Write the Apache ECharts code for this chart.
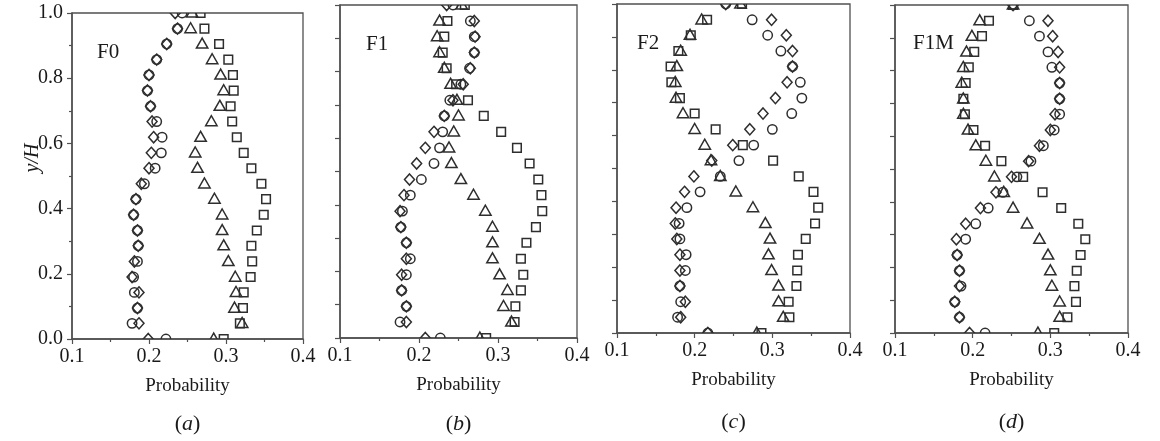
<!DOCTYPE html>
<html>
<head>
<meta charset="utf-8">
<script src="https://cdn.jsdelivr.net/npm/echarts@6/dist/echarts.min.js"></script>
<style>html,body{margin:0;padding:0;background:#fff}#c{width:1160px;height:441px}</style>
</head>
<body>
<div id="c"></div>
<script>
// y/H levels (bottom to top)
const yLevels = [0, 0.048, 0.095, 0.143, 0.190, 0.238, 0.286, 0.333, 0.381, 0.429, 0.476,
  0.524, 0.571, 0.619, 0.667, 0.714, 0.762, 0.810, 0.857, 0.905, 0.952, 1.0];
const xTicks = [0.1, 0.2, 0.3, 0.4];
const yTicks = [0.0, 0.2, 0.4, 0.6, 0.8, 1.0];
const panelNames = ['F0', 'F1', 'F2', 'F1M'];
const captions = ['a', 'b', 'c', 'd'];

// Panel (a) F0
const F0_square   = [0.297,0.318,0.322,0.323,0.332,0.334,0.333,0.340,0.349,0.352,0.346,0.333,0.323,0.314,0.308,0.306,0.310,0.309,0.303,0.291,0.272,0.267];
const F0_triangle = [0.284,0.321,0.311,0.313,0.312,0.303,0.297,0.295,0.295,0.285,0.272,0.263,0.260,0.267,0.281,0.292,0.297,0.293,0.282,0.269,0.254,0.256];
const F0_circle   = [0.222,0.178,0.185,0.181,0.180,0.185,0.186,0.185,0.180,0.183,0.194,0.208,0.216,0.217,0.210,0.202,0.198,0.200,0.210,0.223,0.237,0.243];
const F0_diamond  = [0.199,0.187,0.185,0.187,0.178,0.181,0.186,0.185,0.180,0.183,0.190,0.200,0.203,0.206,0.204,0.202,0.198,0.200,0.210,0.223,0.237,0.234];
// Panel (b) F1
const F1_square   = [0.285,0.321,0.322,0.329,0.332,0.329,0.336,0.348,0.356,0.355,0.351,0.340,0.324,0.304,0.282,0.262,0.247,0.235,0.230,0.232,0.236,0.258];
const F1_triangle = [0.277,0.317,0.307,0.312,0.302,0.293,0.293,0.293,0.284,0.269,0.253,0.241,0.238,0.244,0.250,0.248,0.240,0.232,0.226,0.223,0.226,0.254];
const F1_circle   = [0.227,0.176,0.184,0.178,0.184,0.189,0.184,0.177,0.179,0.189,0.203,0.219,0.226,0.230,0.232,0.239,0.253,0.264,0.270,0.270,0.265,0.243];
const F1_diamond  = [0.208,0.184,0.184,0.178,0.178,0.184,0.184,0.177,0.176,0.181,0.188,0.197,0.208,0.219,0.232,0.243,0.256,0.265,0.270,0.271,0.270,0.235];
// Panel (c) F2
const F2_square   = [0.286,0.322,0.321,0.331,0.332,0.333,0.343,0.355,0.359,0.353,0.334,0.301,0.262,0.227,0.200,0.181,0.170,0.169,0.179,0.195,0.216,0.261];
const F2_triangle = [0.280,0.314,0.308,0.308,0.299,0.295,0.297,0.291,0.275,0.253,0.233,0.221,0.213,0.200,0.185,0.176,0.175,0.177,0.182,0.194,0.209,0.259];
const F2_circle   = [0.217,0.178,0.182,0.181,0.188,0.189,0.181,0.180,0.190,0.207,0.233,0.257,0.276,0.300,0.325,0.338,0.336,0.326,0.311,0.294,0.274,0.240];
const F2_diamond  = [0.217,0.182,0.188,0.181,0.181,0.181,0.177,0.175,0.176,0.187,0.199,0.222,0.249,0.271,0.288,0.304,0.319,0.326,0.326,0.318,0.299,0.240];
// Panel (d) F1M
const F1M_square   = [0.305,0.322,0.333,0.331,0.334,0.339,0.345,0.336,0.314,0.290,0.265,0.237,0.216,0.201,0.190,0.188,0.191,0.195,0.202,0.212,0.221,0.252];
const F1M_triangle = [0.284,0.312,0.312,0.302,0.300,0.297,0.286,0.270,0.252,0.240,0.228,0.217,0.204,0.194,0.188,0.188,0.186,0.188,0.192,0.199,0.209,0.252];
const F1M_circle   = [0.216,0.183,0.177,0.185,0.183,0.180,0.191,0.204,0.220,0.239,0.257,0.275,0.291,0.305,0.312,0.312,0.312,0.302,0.297,0.286,0.273,0.252];
const F1M_diamond  = [0.196,0.183,0.177,0.183,0.183,0.180,0.179,0.191,0.210,0.230,0.250,0.272,0.286,0.300,0.306,0.312,0.312,0.312,0.310,0.303,0.297,0.252];

const panels = [
  {square: F0_square, triangle: F0_triangle, circle: F0_circle, diamond: F0_diamond},
  {square: F1_square, triangle: F1_triangle, circle: F1_circle, diamond: F1_diamond},
  {square: F2_square, triangle: F2_triangle, circle: F2_circle, diamond: F2_diamond},
  {square: F1M_square, triangle: F1M_triangle, circle: F1M_circle, diamond: F1M_diamond}
];

const FONT = "'Liberation Serif', 'Times New Roman', 'DejaVu Serif', serif";
const INK = '#505050';
const MARK = '#2e2e2e';
const TXT = '#1a1a1a';

const grids = [
  {left: 72, top: 13, width: 231, height: 326},
  {left: 340, top: 5, width: 237, height: 333},
  {left: 617, top: 4, width: 233, height: 329},
  {left: 895, top: 5, width: 233, height: 328}
];

function shapeRender(kind) {
  return function (params, api) {
    const p = api.coord([api.value(0), api.value(1)]);
    const cx = p[0], cy = p[1];
    const style = {fill: 'none', stroke: MARK, lineWidth: 1.5};
    if (kind === 'square') {
      return {type: 'rect', shape: {x: cx - 4.3, y: cy - 4.3, width: 8.6, height: 8.6}, style: style};
    } else if (kind === 'circle') {
      return {type: 'circle', shape: {cx: cx, cy: cy, r: 4.7}, style: style};
    } else if (kind === 'triangle') {
      return {type: 'polygon', shape: {points: [[cx, cy - 5.9], [cx - 5.7, cy + 4.1], [cx + 5.7, cy + 4.1]]}, style: style};
    } else {
      return {type: 'polygon', shape: {points: [[cx, cy - 5.6], [cx + 5, cy], [cx, cy + 5.6], [cx - 5, cy]]}, style: style};
    }
  };
}

const option = {
  animation: false,
  backgroundColor: '#fff',
  textStyle: {fontFamily: FONT},
  grid: grids.map(g => Object.assign({show: true, borderColor: INK, borderWidth: 1.3, backgroundColor: 'transparent', containLabel: false}, g)),
  xAxis: grids.map((g, i) => ({
    gridIndex: i, type: 'value', min: 0.1, max: 0.4, interval: 0.1,
    axisLine: {show: true, onZero: false, lineStyle: {color: INK, width: 1.5}},
    axisTick: {show: true, length: 5, lineStyle: {color: INK, width: 1.2}},
    minorTick: {show: true, splitNumber: 2, length: 3, lineStyle: {color: INK, width: 1.2}},
    splitLine: {show: false},
    axisLabel: {fontFamily: FONT, fontSize: 20, color: TXT, margin: 8,
      formatter: v => xTicks.some(t => Math.abs(t - v) < 1e-6) ? v.toFixed(1) : ''},
    name: 'Probability', nameLocation: 'middle', nameGap: 38,
    nameTextStyle: {fontFamily: FONT, fontSize: 19, color: TXT}
  })),
  yAxis: grids.map((g, i) => (i === 0 ? {
    gridIndex: i, type: 'value', min: 0, max: 1, interval: 0.2,
    axisLine: {show: true, onZero: false, lineStyle: {color: INK, width: 1.5}},
    axisTick: {show: true, length: 5, lineStyle: {color: INK, width: 1.2}},
    minorTick: {show: true, splitNumber: 2, length: 3, lineStyle: {color: INK, width: 1.2}},
    splitLine: {show: false},
    axisLabel: {fontFamily: FONT, fontSize: 20, color: TXT, margin: 9,
      formatter: v => yTicks.some(t => Math.abs(t - v) < 1e-6) ? v.toFixed(1) : ''}
  } : {
    gridIndex: i, type: 'value', min: 0, max: 1, interval: 0.1,
    axisLine: {show: true, onZero: false, lineStyle: {color: INK, width: 1.5}},
    axisTick: {show: true, length: 5, lineStyle: {color: INK, width: 1.2}},
    splitLine: {show: false},
    axisLabel: {show: false}
  })),
  series: [],
  graphic: []
};

const kinds = ['square', 'triangle', 'circle', 'diamond'];
panels.forEach((pnl, i) => {
  kinds.forEach(k => {
    option.series.push({
      type: 'custom', name: panelNames[i] + ' ' + k,
      xAxisIndex: i, yAxisIndex: i, coordinateSystem: 'cartesian2d',
      clip: true, silent: true,
      encode: {x: 0, y: 1},
      data: pnl[k].map((x, j) => [x, yLevels[j]]),
      renderItem: shapeRender(k)
    });
  });
});

const labelPos = [[97, 52], [366, 44], [637, 43], [913, 43]];
panelNames.forEach((n, i) => {
  option.graphic.push({type: 'text', x: labelPos[i][0], y: labelPos[i][1], z: 100,
    style: {text: n, fontFamily: FONT, fontSize: 21, fill: TXT, align: 'left', verticalAlign: 'middle'}});
});
const capY = [424, 424, 422, 422];
captions.forEach((c, i) => {
  const g = grids[i];
  option.graphic.push({type: 'text', x: g.left + g.width / 2, y: capY[i], z: 100,
    style: {text: '{p|(}{i|' + c + '}{p|)}', align: 'center', verticalAlign: 'middle',
      rich: {p: {fontFamily: FONT, fontSize: 22, fill: TXT},
             i: {fontFamily: FONT, fontSize: 22, fontStyle: 'italic', fill: TXT}}}});
});
option.graphic.push({type: 'text', x: 33, y: 158, rotation: Math.PI / 2, z: 100,
  style: {text: 'y/H', fontFamily: FONT, fontSize: 20, fontStyle: 'italic', fill: TXT, align: 'center', verticalAlign: 'middle'}});

const chart = echarts.init(document.getElementById('c'), null, {renderer: 'canvas'});
chart.setOption(option);
</script>
</body>
</html>
